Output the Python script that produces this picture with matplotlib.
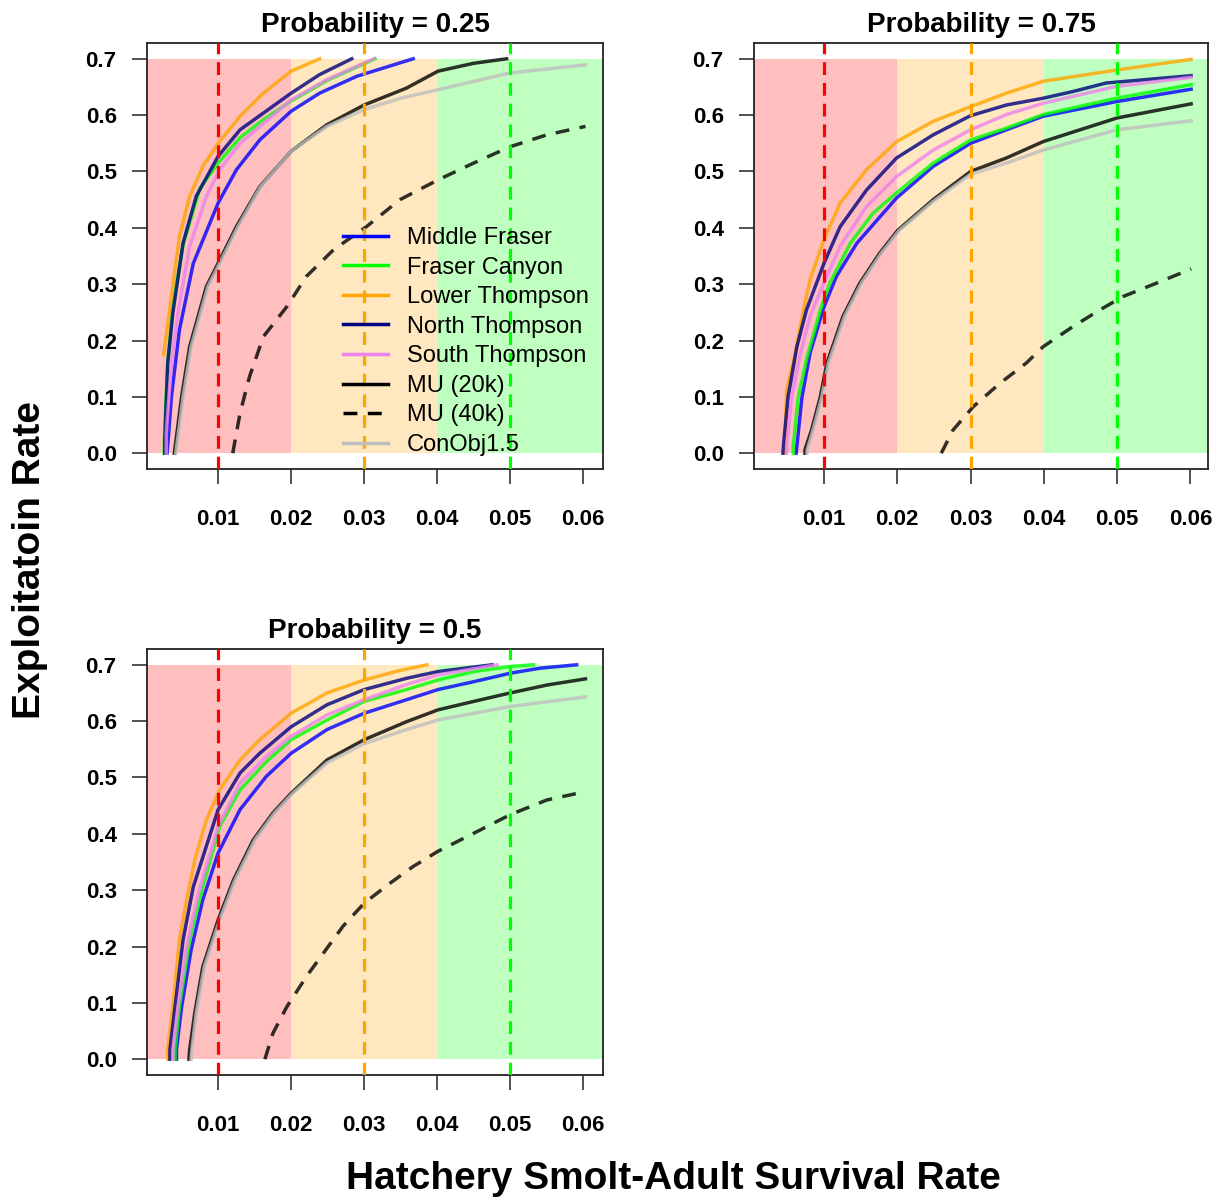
import matplotlib
matplotlib.use('Agg')
import matplotlib.pyplot as plt
from matplotlib.lines import Line2D

plt.rcParams['font.family'] = ['Liberation Sans', 'DejaVu Sans']

# legend / series definitions
series_names = ['Middle Fraser', 'Fraser Canyon', 'Lower Thompson', 'North Thompson',
                'South Thompson', 'MU (20k)', 'MU (40k)', 'ConObj1.5']
series_colors = ['#0000FF', '#00FF00', '#FFA500', '#000080',
                 '#EE82EE', '#000000', '#000000', '#BEBEBE']
series_styles = ['-', '-', '-', '-', '-', '-', (0, (4, 3)), '-']

x_ticks = [0.01, 0.02, 0.03, 0.04, 0.05, 0.06]
x_tick_labels = ['0.01', '0.02', '0.03', '0.04', '0.05', '0.06']
y_ticks = [0.0, 0.1, 0.2, 0.3, 0.4, 0.5, 0.6, 0.7]
y_tick_labels = ['0.0', '0.1', '0.2', '0.3', '0.4', '0.5', '0.6', '0.7']

# reference survival lines
ref_x = [0.01, 0.03, 0.05]
ref_colors = ['#FF0000', '#FFA500', '#00FF00']

# ---- Probability = 0.25 : (survival rate, exploitation rate) ----
mf25 = [(0.0030, 0.0), (0.0032, 0.03), (0.0036, 0.10), (0.0047, 0.219), (0.0066, 0.337),
        (0.0100, 0.444), (0.0125, 0.503), (0.0157, 0.556), (0.0200, 0.607), (0.0239, 0.639),
        (0.0290, 0.669), (0.0367, 0.700)]
fc25 = [(0.0026, 0.0), (0.0027, 0.05), (0.0031, 0.16), (0.0038, 0.26), (0.0052, 0.37),
        (0.0075, 0.47), (0.0100, 0.515), (0.0130, 0.56), (0.0160, 0.59), (0.0200, 0.625),
        (0.0250, 0.662), (0.0315, 0.700)]
lt25 = [(0.00255, 0.175), (0.0036, 0.278), (0.0047, 0.385), (0.0061, 0.456), (0.0079, 0.509),
        (0.0100, 0.550), (0.0130, 0.598), (0.0162, 0.639), (0.0200, 0.678), (0.0239, 0.700)]
nt25 = [(0.0027, 0.0), (0.0027, 0.024), (0.0031, 0.16), (0.0038, 0.249), (0.0052, 0.373),
        (0.0070, 0.456), (0.0100, 0.527), (0.0130, 0.574), (0.0200, 0.639), (0.0239, 0.672),
        (0.0283, 0.700)]
st25 = [(0.0029, 0.0), (0.0029, 0.036), (0.0036, 0.16), (0.0045, 0.249), (0.0061, 0.367),
        (0.0084, 0.456), (0.0102, 0.503), (0.0130, 0.55), (0.0200, 0.627), (0.0249, 0.663),
        (0.0313, 0.700)]
mu20_25 = [(0.0040, 0.0), (0.0043, 0.03), (0.0050, 0.10), (0.0061, 0.189), (0.0084, 0.296),
           (0.0100, 0.337), (0.0125, 0.402), (0.0157, 0.473), (0.0200, 0.536), (0.0249, 0.583),
           (0.0300, 0.618), (0.0358, 0.648), (0.0401, 0.678), (0.0450, 0.692), (0.0495, 0.700)]
mu40_25 = [(0.0120, 0.0), (0.0130, 0.071), (0.0143, 0.136), (0.0162, 0.207), (0.0194, 0.26),
           (0.0221, 0.314), (0.0258, 0.361), (0.0303, 0.402), (0.0349, 0.45), (0.0401, 0.485),
           (0.0450, 0.515), (0.0500, 0.544), (0.0550, 0.565), (0.0603, 0.58)]
co25 = [(0.0042, 0.0), (0.0045, 0.03), (0.0052, 0.10), (0.0063, 0.189), (0.0086, 0.296),
        (0.0102, 0.337), (0.0127, 0.402), (0.0158, 0.473), (0.0200, 0.536), (0.0249, 0.580),
        (0.0300, 0.610), (0.0350, 0.630), (0.0401, 0.645), (0.0500, 0.675), (0.0603, 0.689)]

# ---- Probability = 0.75 ----
mf75 = [(0.0062, 0.0), (0.0063, 0.012), (0.0070, 0.10), (0.0081, 0.178), (0.0100, 0.26),
        (0.0117, 0.314), (0.0145, 0.373), (0.0199, 0.453), (0.0249, 0.509), (0.0300, 0.55),
        (0.0349, 0.574), (0.0399, 0.598), (0.0499, 0.624), (0.0601, 0.646)]
fc75 = [(0.0058, 0.0), (0.0058, 0.012), (0.0065, 0.10), (0.0076, 0.166), (0.0095, 0.254),
        (0.0108, 0.302), (0.0136, 0.373), (0.0167, 0.426), (0.0199, 0.462), (0.0249, 0.515),
        (0.0300, 0.556), (0.0349, 0.577), (0.0399, 0.601), (0.0499, 0.630), (0.0601, 0.654)]
lt75 = [(0.0047, 0.0), (0.0047, 0.018), (0.0049, 0.112), (0.0060, 0.172), (0.0072, 0.254),
        (0.0081, 0.308), (0.0100, 0.379), (0.0122, 0.444), (0.0158, 0.503), (0.0199, 0.553),
        (0.0249, 0.589), (0.0300, 0.615), (0.0349, 0.639), (0.0399, 0.660), (0.0499, 0.680),
        (0.0601, 0.699)]
nt75 = [(0.0044, 0.0), (0.0045, 0.018), (0.0051, 0.10), (0.0063, 0.189), (0.0076, 0.254),
        (0.0100, 0.337), (0.0122, 0.402), (0.0158, 0.467), (0.0199, 0.524), (0.0249, 0.565),
        (0.0300, 0.599), (0.0349, 0.618), (0.0399, 0.630), (0.0440, 0.642), (0.0485, 0.657),
        (0.0601, 0.670)]
st75 = [(0.0049, 0.0), (0.0049, 0.012), (0.0056, 0.10), (0.0067, 0.172), (0.0081, 0.243),
        (0.0100, 0.302), (0.0122, 0.367), (0.0158, 0.438), (0.0199, 0.491), (0.0249, 0.538),
        (0.0300, 0.574), (0.0349, 0.601), (0.0399, 0.621), (0.0499, 0.651), (0.0601, 0.667)]
mu20_75 = [(0.0074, 0.0), (0.0074, 0.006), (0.0083, 0.041), (0.0095, 0.10), (0.0104, 0.16),
           (0.0126, 0.243), (0.0149, 0.302), (0.0176, 0.355), (0.0201, 0.396), (0.0249, 0.45),
           (0.0300, 0.50), (0.0349, 0.524), (0.0399, 0.553), (0.0500, 0.595), (0.0601, 0.62)]
mu40_75 = [(0.0260, 0.0), (0.0276, 0.041), (0.0304, 0.083), (0.0340, 0.124), (0.0376, 0.16),
           (0.0399, 0.189), (0.0440, 0.225), (0.0476, 0.254), (0.0508, 0.278), (0.0554, 0.302),
           (0.0601, 0.327)]
co75 = [(0.0077, 0.0), (0.0077, 0.006), (0.0085, 0.041), (0.0097, 0.10), (0.0106, 0.16),
        (0.0128, 0.243), (0.0151, 0.302), (0.0178, 0.355), (0.0203, 0.396), (0.0249, 0.447),
        (0.0300, 0.495), (0.0349, 0.515), (0.0399, 0.538), (0.0500, 0.574), (0.0601, 0.59)]

# ---- Probability = 0.5 ----
mf50 = [(0.0043, 0.0), (0.0043, 0.017), (0.0050, 0.093), (0.0063, 0.194), (0.0079, 0.283),
        (0.0100, 0.366), (0.0130, 0.443), (0.0166, 0.502), (0.0200, 0.543), (0.0249, 0.585),
        (0.0300, 0.614), (0.0358, 0.638), (0.0401, 0.656), (0.0450, 0.670), (0.0500, 0.685),
        (0.0541, 0.694), (0.0591, 0.700)]
fc50 = [(0.0041, 0.0), (0.0041, 0.017), (0.0047, 0.093), (0.0061, 0.212), (0.0079, 0.306),
        (0.0102, 0.413), (0.0130, 0.478), (0.0166, 0.528), (0.0200, 0.567), (0.0249, 0.602),
        (0.0300, 0.635), (0.0358, 0.656), (0.0401, 0.673), (0.0450, 0.688), (0.0500, 0.697),
        (0.0532, 0.700)]
lt50 = [(0.0031, 0.0), (0.0031, 0.017), (0.0038, 0.093), (0.0047, 0.212), (0.0057, 0.283),
        (0.0068, 0.354), (0.0084, 0.425), (0.0102, 0.478), (0.0130, 0.531), (0.0157, 0.567),
        (0.0200, 0.614), (0.0249, 0.650), (0.0300, 0.673), (0.0349, 0.690), (0.0386, 0.700)]
nt50 = [(0.0034, 0.0), (0.0034, 0.017), (0.0041, 0.093), (0.0052, 0.212), (0.0066, 0.306),
        (0.0100, 0.443), (0.0130, 0.508), (0.0157, 0.543), (0.0200, 0.59), (0.0249, 0.629),
        (0.0300, 0.656), (0.0358, 0.676), (0.0401, 0.688), (0.0475, 0.700)]
st50 = [(0.0038, 0.0), (0.0038, 0.017), (0.0045, 0.093), (0.0057, 0.20), (0.0073, 0.295),
        (0.0100, 0.413), (0.0130, 0.49), (0.0166, 0.537), (0.0200, 0.573), (0.0249, 0.611),
        (0.0300, 0.638), (0.0358, 0.665), (0.0401, 0.682), (0.0482, 0.700)]
mu20_50 = [(0.0060, 0.0), (0.0061, 0.017), (0.0068, 0.082), (0.0079, 0.164), (0.0100, 0.247),
           (0.0121, 0.318), (0.0148, 0.389), (0.0175, 0.437), (0.0200, 0.472), (0.0249, 0.531),
           (0.0300, 0.567), (0.0358, 0.599), (0.0401, 0.62), (0.0450, 0.635), (0.0500, 0.65),
           (0.0550, 0.664), (0.0603, 0.675)]
mu40_50 = [(0.0164, 0.0), (0.0175, 0.046), (0.0194, 0.093), (0.0203, 0.111), (0.0221, 0.147),
           (0.0244, 0.188), (0.0271, 0.236), (0.0300, 0.277), (0.0335, 0.312), (0.0367, 0.342),
           (0.0401, 0.369), (0.0450, 0.401), (0.0500, 0.434), (0.0550, 0.46), (0.0603, 0.475)]
co50 = [(0.0063, 0.0), (0.0064, 0.017), (0.0070, 0.082), (0.0081, 0.164), (0.0102, 0.247),
        (0.0123, 0.318), (0.0150, 0.389), (0.0177, 0.437), (0.0202, 0.472), (0.0249, 0.526),
        (0.0300, 0.560), (0.0358, 0.585), (0.0401, 0.602), (0.0500, 0.626), (0.0603, 0.643)]


def draw_panel(ax, title, curves, xlim, legend=False):
    ax.set_xlim(xlim)
    ax.set_ylim(-0.028, 0.728)

    # shaded survival zones
    ax.fill_between([xlim[0], 0.02], 0, 0.7, color='#FF0000', alpha=0.25, lw=0, zorder=1)
    ax.fill_between([0.02, 0.04], 0, 0.7, color='#FFA500', alpha=0.25, lw=0, zorder=1)
    ax.fill_between([0.04, xlim[1]], 0, 0.7, color='#00FF00', alpha=0.25, lw=0, zorder=1)

    for pts, color, ls in zip(curves, series_colors, series_styles):
        xs = [p[0] for p in pts]
        ys = [p[1] for p in pts]
        ax.plot(xs, ys, color=color, ls=ls, lw=2.5, alpha=0.8, zorder=2)

    for xv, c in zip(ref_x, ref_colors):
        ax.axvline(xv, color=c, ls=(0, (4, 2.5)), lw=2.3, zorder=3)

    ax.set_xticks(x_ticks)
    ax.set_xticklabels(x_tick_labels, fontsize=16, fontweight='bold')
    ax.set_yticks(y_ticks)
    ax.set_yticklabels(y_tick_labels, fontsize=16, fontweight='bold')
    ax.tick_params(axis='both', length=10.8, width=1.2, color='#333333')
    ax.tick_params(axis='x', pad=18)
    ax.tick_params(axis='y', pad=11)
    for sp in ax.spines.values():
        sp.set_linewidth(1.3)
        sp.set_color('#222222')
    ax.set_title(title, fontsize=20, fontweight='bold', pad=8)

    if legend:
        handles = [Line2D([0], [0], color=c, ls=s, lw=2.5)
                   for c, s in zip(series_colors, series_styles)]
        ax.legend(handles, series_names, loc='upper left', bbox_to_anchor=(0.43, 0.568),
                  frameon=False, fontsize=17, handlelength=1.9, handletextpad=0.8,
                  labelspacing=0.32, borderpad=0, borderaxespad=0)


fig = plt.figure(figsize=(12.2, 11.97), dpi=100)
ax1 = fig.add_axes([147 / 1220, 1 - 469 / 1197, 456 / 1220, 426 / 1197])
ax2 = fig.add_axes([754 / 1220, 1 - 469 / 1197, 454 / 1220, 426 / 1197])
ax3 = fig.add_axes([147 / 1220, 1 - 1075 / 1197, 456 / 1220, 426 / 1197])

draw_panel(ax1, 'Probability = 0.25',
           [mf25, fc25, lt25, nt25, st25, mu20_25, mu40_25, co25], (0.00026, 0.0627), legend=True)
draw_panel(ax2, 'Probability = 0.75',
           [mf75, fc75, lt75, nt75, st75, mu20_75, mu40_75, co75], (0.00045, 0.0624))
draw_panel(ax3, 'Probability = 0.5',
           [mf50, fc50, lt50, nt50, st50, mu20_50, mu40_50, co50], (0.00026, 0.0627))

fig.text(30 / 1220, 1 - 560 / 1197, 'Exploitatoin Rate', rotation=90, fontsize=28,
         fontweight='bold', ha='center', va='center')
fig.text(673 / 1220, 1 - 1179 / 1197, 'Hatchery Smolt-Adult Survival Rate', fontsize=28,
         fontweight='bold', ha='center', va='center')

fig.savefig('out.png', dpi=100)
